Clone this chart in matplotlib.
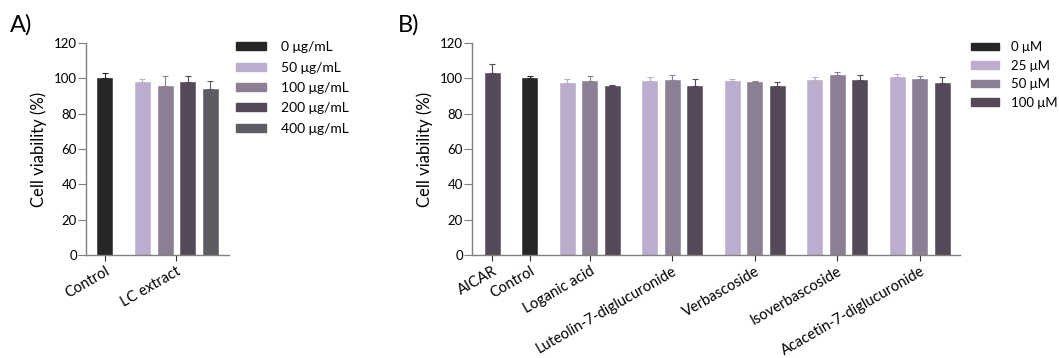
import matplotlib.pyplot as plt
from matplotlib.patches import Patch

plt.rcParams['font.family'] = ['Lato', 'DejaVu Sans']
plt.rcParams['font.size'] = 10

# Panel A data
a_labels = ['Control', 'LC extract']
a_series = ['0 μg/mL', '50 μg/mL', '100 μg/mL', '200 μg/mL', '400 μg/mL']
a_control = 100.0
a_control_err = 2.8
a_lc = [98.0, 95.6, 97.9, 94.0]
a_lc_err = [1.5, 5.6, 3.7, 4.4]

# Panel B data
b_series = ['0 μM', '25 μM', '50 μM', '100 μM']
b_aicar = 103.3
b_aicar_err = 4.8
b_control = 100.0
b_control_err = 1.5
b_compounds = ['Loganic acid', 'Luteolin-7-diglucuronide', 'Verbascoside',
               'Isoverbascoside', 'Acacetin-7-diglucuronide']
b_25 = [97.4, 98.3, 98.3, 99.2, 100.6]
b_25_err = [2.4, 2.3, 1.5, 1.4, 1.8]
b_50 = [98.3, 99.2, 97.7, 102.1, 99.4]
b_50_err = [2.8, 2.8, 1.0, 1.5, 1.7]
b_100 = [95.5, 95.7, 95.9, 99.1, 97.5]
b_100_err = [0.9, 4.1, 2.2, 2.9, 3.3]

c_black = '#262626'
c_light = '#bcaccd'
c_mid = '#8c7f93'
c_dark = '#554859'
c_grey = '#5f5b62'
a_colors = [c_black, c_light, c_mid, c_dark, c_grey]
b_colors = [c_black, c_light, c_mid, c_dark]

W = 0.667
spine_c = '#808080'


def bar_err(ax, x, y, e, color):
    ax.bar(x, y, width=W, color=color, edgecolor=color, linewidth=0.4, zorder=2)
    ax.errorbar(x, y, yerr=[[0], [e]], fmt='none', ecolor=color,
                elinewidth=0.8, capsize=2.2, capthick=0.8, zorder=1)


def style(ax):
    ax.spines['top'].set_visible(False)
    ax.spines['right'].set_visible(False)
    for s in ('left', 'bottom'):
        ax.spines[s].set_color(spine_c)
        ax.spines[s].set_linewidth(1.0)
    ax.set_ylim(0, 120)
    ax.set_yticks(range(0, 121, 20))
    ax.tick_params(axis='y', length=5.5, width=0.8, color=spine_c, pad=1, labelsize=9.5)
    ax.tick_params(axis='x', length=4.5, width=0.8, color='#333333', pad=2, labelsize=10.5)
    ax.set_ylabel('Cell viability (%)', fontsize=12, labelpad=5)
    plt.setp(ax.get_xticklabels(), rotation=30, ha='right', rotation_mode='anchor')


fig = plt.figure(figsize=(10.59, 3.58), dpi=100)

# ---- Panel A
axA = fig.add_axes([0.0812, 0.2877, 0.135, 0.592])
bar_err(axA, 0, a_control, a_control_err, a_colors[0])
a_pos = [1.66 + i for i in range(len(a_lc))]
for i, (v, e) in enumerate(zip(a_lc, a_lc_err)):
    bar_err(axA, a_pos[i], v, e, a_colors[i + 1])
axA.set_xlim(-0.84, 5.49)
axA.set_xticks([0, 3.16])
axA.set_xticklabels(a_labels)
style(axA)
handlesA = [Patch(color=c) for c in a_colors]
fig.legend(handlesA, a_series, loc='upper left', bbox_to_anchor=(0.218, 0.9),
           frameon=False, fontsize=10, handlelength=2.1, handleheight=0.5,
           handletextpad=1.1, labelspacing=0.6, borderaxespad=0)
fig.text(0.009, 0.96, 'A)', fontsize=17, va='top')

# ---- Panel B
axB = fig.add_axes([0.4457, 0.2877, 0.4608, 0.592])
bar_err(axB, 0, b_aicar, b_aicar_err, c_dark)
bar_err(axB, 1.667, b_control, b_control_err, c_black)
centers = [4.333 + 3.667 * i for i in range(len(b_compounds))]
for i, cx in enumerate(centers):
    bar_err(axB, cx - 1, b_25[i], b_25_err[i], c_light)
    bar_err(axB, cx, b_50[i], b_50_err[i], c_mid)
    bar_err(axB, cx + 1, b_100[i], b_100_err[i], c_dark)
axB.set_xlim(-0.91, 20.78)
axB.set_xticks([0, 1.667] + centers)
axB.set_xticklabels(['AICAR', 'Control'] + b_compounds)
style(axB)
handlesB = [Patch(color=c) for c in b_colors]
fig.legend(handlesB, b_series, loc='upper left', bbox_to_anchor=(0.912, 0.9),
           frameon=False, fontsize=9.5, handlelength=2.1, handleheight=0.5,
           handletextpad=0.9, labelspacing=0.5, borderaxespad=0)
fig.text(0.376, 0.96, 'B)', fontsize=17, va='top')

fig.savefig('out.png', dpi=100)
